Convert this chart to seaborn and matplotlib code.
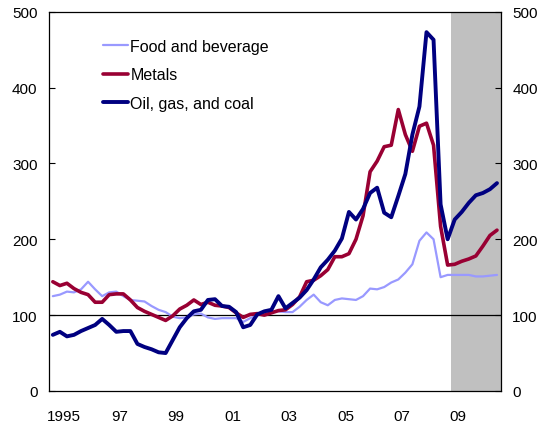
import numpy as np
import pandas as pd
import seaborn as sns
import matplotlib
matplotlib.use("Agg")
import matplotlib.pyplot as plt

# quarterly index values, 1995Q1 - 2010Q4 (forecast shaded from 2009Q2)
quarters = pd.period_range("1995Q1", "2010Q4", freq="Q")

food = [125, 127, 131, 130, 134, 144, 134, 125, 130, 131, 125, 120, 119, 118, 112, 107,
        104, 98, 96, 97, 101, 102, 97, 95, 96, 96, 96, 91, 96, 100, 103, 105,
        105, 104, 104, 111, 120, 127, 117, 113, 120, 122, 121, 120, 125, 135, 134, 137,
        143, 147, 156, 167, 198, 209, 200, 150, 153, 153, 153, 153, 151, 151, 152, 153]

metals = [144, 139, 142, 135, 130, 127, 117, 117, 127, 128, 128, 120, 110, 105, 101, 97,
          93, 99, 108, 113, 120, 114, 117, 113, 112, 110, 103, 97, 101, 102, 100, 103,
          106, 107, 114, 124, 144, 146, 152, 160, 177, 177, 181, 200, 231, 289, 303, 322,
          324, 371, 338, 316, 349, 353, 324, 217, 166, 167, 171, 174, 178, 191, 205, 212]

oil = [74, 78, 72, 74, 79, 83, 87, 95, 87, 78, 79, 79, 62, 58, 55, 51,
       50, 67, 84, 96, 105, 107, 120, 121, 112, 111, 104, 84, 87, 101, 105, 107,
       125, 109, 116, 123, 133, 147, 163, 173, 185, 201, 236, 226, 240, 261, 268, 235,
       229, 257, 286, 338, 375, 473, 463, 246, 200, 226, 236, 248, 258, 261, 266, 274]

series_names = ["Food and beverage", "Metals", "Oil, gas, and coal"]
colors = ["#9999FF", "#990033", "#000080"]
widths = [1.6, 2.6, 2.8]

forecast_start = 2009.25
year_labels = ["1995", "97", "99", "01", "03", "05", "07", "09"]

x = np.array([q.year + (q.quarter - 0.5) / 4 for q in quarters])
df = pd.DataFrame({"x": np.tile(x, 3),
                   "value": food + metals + oil,
                   "series": np.repeat(series_names, len(x))})

sns.set_style("white")
plt.rcParams["font.family"] = ["Liberation Sans", "DejaVu Sans"]
plt.rcParams["text.color"] = "black"

fig = plt.figure(figsize=(5.46, 4.27), dpi=100)
ax = fig.add_axes([0.0903, 0.082, 0.8264, 0.8883])

ax.axvspan(forecast_start, 2011, color="#C0C0C0", lw=0, zorder=0)
ax.axhline(100, color="black", lw=0.9, zorder=1)

for name, c, w in zip(series_names, colors, widths):
    sns.lineplot(data=df[df["series"] == name], x="x", y="value", color=c,
                 linewidth=w, label=name, ax=ax, zorder=2)

ax.set_xlim(1995, 2011)
ax.set_ylim(0, 500)
ax.set_xlabel("")
ax.set_ylabel("")

ax.set_xticks(np.arange(1995, 2012))
ax.set_xticklabels([])
ax.set_xticks(np.arange(1995, 2011, 2) + 0.5, minor=True)
ax.set_xticklabels(year_labels, minor=True)
ax.tick_params(axis="x", which="major", direction="out", length=4, width=0.8, color="black")
ax.tick_params(axis="x", which="minor", length=0, pad=13, labelsize=11, labelcolor="black")

ax.set_yticks([0, 100, 200, 300, 400, 500])
ax.tick_params(axis="y", direction="in", length=4, width=0.8, color="black",
               left=True, right=True, labelleft=True, labelright=True,
               pad=8.5, labelsize=11, labelcolor="black")

for s in ax.spines.values():
    s.set_visible(True)
    s.set_color("black")
    s.set_linewidth(0.9)

leg = ax.legend(loc="upper left", bbox_to_anchor=(0.118, 0.929), frameon=False,
                fontsize=11.5, handlelength=1.6, handletextpad=0.15,
                labelspacing=0.86, borderpad=0, borderaxespad=0)
for t in leg.get_texts():
    t.set_color("black")

fig.savefig("out.png", dpi=100)
